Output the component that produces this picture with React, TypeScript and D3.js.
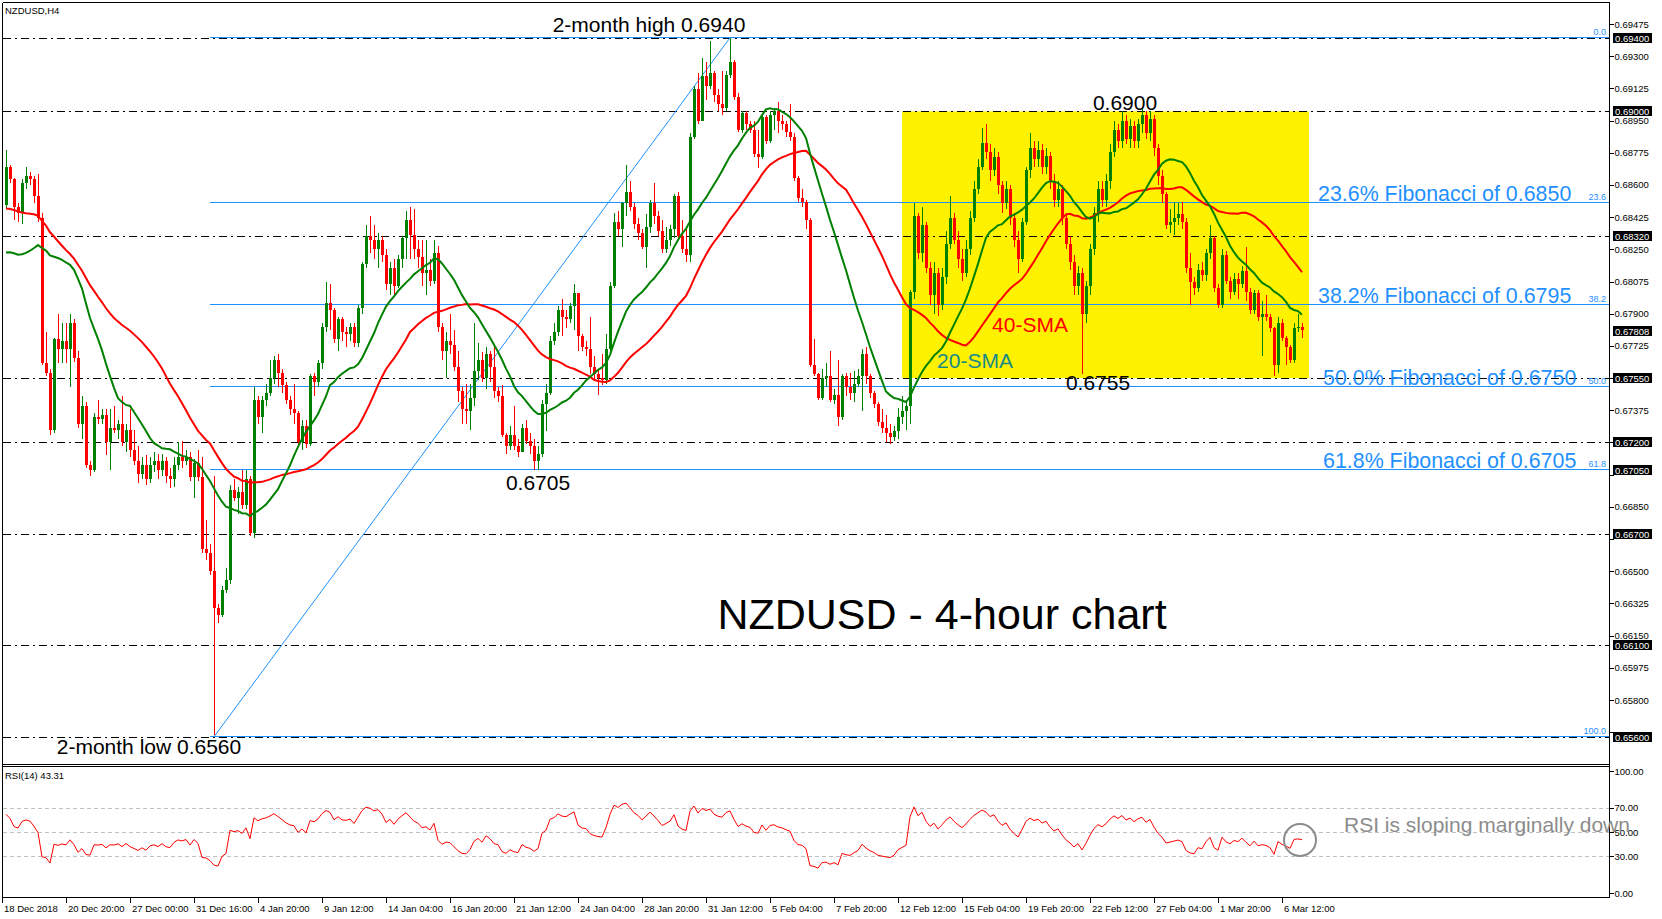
import React from 'react';
import * as d3 from 'd3';

// ---------- DATA (prices in pips, 1 pip = 0.0001) ----------
const FIRST_OPEN = 6849;
// closes before the visible window (used only for the moving averages / RSI)
const HIST_CLOSE = [
  6880, 6875, 6870, 6878, 6885, 6880, 6872, 6868, 6875, 6870,
  6865, 6870, 6868, 6875, 6872, 6866, 6870, 6868, 6862, 6871,
  6865, 6860, 6858, 6862, 6855, 6850, 6840, 6825, 6810, 6795,
  6785, 6780, 6790, 6785, 6795, 6800, 6810, 6820, 6830, 6845,
];
const CLOSE = [
  6870, 6863, 6848, 6845, 6861, 6865, 6863, 6854, 6842, 6763,
  6758, 6727, 6776, 6771, 6775, 6771, 6785, 6766, 6730, 6740,
  6708, 6705, 6734, 6733, 6735, 6720, 6728, 6727, 6730, 6720,
  6727, 6716, 6710, 6703, 6708, 6700, 6708, 6710, 6705, 6710,
  6702, 6700, 6708, 6712, 6710, 6712, 6701, 6709, 6701, 6662,
  6660, 6650, 6630, 6626, 6640, 6645, 6694, 6690, 6693, 6686,
  6700, 6671, 6743, 6734, 6743, 6747, 6755, 6765, 6758, 6751,
  6743, 6738, 6736, 6720, 6729, 6719, 6756, 6753, 6763, 6783,
  6796, 6792, 6776, 6787, 6780, 6779, 6783, 6774, 6793, 6817,
  6832, 6830, 6825, 6830, 6822, 6806, 6815, 6805, 6820, 6831,
  6841, 6833, 6825, 6821, 6812, 6814, 6808, 6823, 6783, 6770,
  6775, 6773, 6761, 6748, 6738, 6737, 6744, 6759, 6765, 6755,
  6768, 6761, 6748, 6745, 6724, 6718, 6724, 6718, 6715, 6728,
  6721, 6718, 6710, 6714, 6741, 6747, 6775, 6780, 6792, 6788,
  6787, 6794, 6801, 6778, 6772, 6771, 6761, 6757, 6755, 6754,
  6771, 6805, 6840, 6836, 6850, 6856, 6848, 6839, 6834, 6826,
  6837, 6850, 6843, 6835, 6825, 6830, 6836, 6854, 6832, 6825,
  6822, 6886, 6912, 6895, 6919, 6914, 6921, 6909, 6904, 6902,
  6920, 6927, 6908, 6890, 6899, 6893, 6890, 6877, 6875, 6897,
  6884, 6898, 6900, 6895, 6893, 6889, 6886, 6864, 6853, 6851,
  6841, 6762, 6757, 6744, 6755, 6756, 6743, 6746, 6734, 6756,
  6750, 6747, 6752, 6756, 6768, 6756, 6747, 6741, 6731, 6728,
  6725, 6723, 6726, 6734, 6737, 6740, 6802, 6843, 6823, 6838,
  6815, 6800, 6812, 6795, 6810, 6828, 6842, 6830, 6820, 6812,
  6825, 6842, 6858, 6870, 6883, 6878, 6868, 6875, 6860, 6850,
  6858, 6842, 6830, 6820, 6840, 6868, 6880, 6874, 6879, 6870,
  6876, 6862, 6852, 6858, 6842, 6828, 6818, 6805, 6812, 6790,
  6805, 6825, 6845, 6858, 6852, 6862, 6878, 6890, 6884, 6895,
  6885, 6892, 6884, 6893, 6898, 6888, 6896, 6880, 6865, 6855,
  6838, 6840, 6842, 6844, 6840, 6815, 6807, 6804, 6814, 6811,
  6823, 6831, 6804, 6795, 6822, 6808, 6802, 6809, 6806, 6813,
  6802, 6792, 6801, 6788, 6790, 6788, 6782, 6762, 6785, 6777,
  6772, 6765, 6782, 6783, 6781,
];
const HIGH = [
  6879, 6871, 6864, 6850, 6863, 6870, 6867, 6865, 6866, 6845,
  6780, 6760, 6777, 6790, 6785, 6785, 6790, 6787, 6770, 6745,
  6742, 6710, 6736, 6743, 6738, 6738, 6738, 6740, 6732, 6745,
  6730, 6738, 6727, 6718, 6712, 6713, 6712, 6715, 6714, 6714,
  6712, 6706, 6712, 6720, 6721, 6716, 6715, 6711, 6716, 6712,
  6678, 6665, 6702, 6632, 6642, 6652, 6697, 6700, 6696, 6705,
  6705, 6702, 6750, 6745, 6745, 6752, 6765, 6767, 6768, 6760,
  6753, 6745, 6752, 6737, 6732, 6732, 6757, 6758, 6765, 6785,
  6807, 6806, 6793, 6788, 6788, 6783, 6785, 6785, 6795, 6818,
  6838, 6843, 6838, 6834, 6832, 6825, 6818, 6820, 6822, 6832,
  6846, 6848, 6847, 6830, 6830, 6830, 6820, 6830, 6827, 6785,
  6780, 6790, 6781, 6770, 6750, 6752, 6752, 6785, 6774, 6769,
  6772, 6770, 6773, 6750, 6751, 6725, 6729, 6740, 6722, 6730,
  6732, 6725, 6722, 6718, 6743, 6752, 6778, 6785, 6794, 6798,
  6792, 6796, 6806, 6801, 6779, 6775, 6788, 6767, 6760, 6768,
  6779, 6807, 6845, 6846, 6851, 6871, 6862, 6850, 6842, 6836,
  6844, 6852, 6861, 6846, 6841, 6837, 6838, 6855, 6856, 6841,
  6836, 6888, 6914, 6921, 6929, 6927, 6938, 6922, 6912, 6922,
  6922, 6940, 6928, 6910, 6900, 6900, 6895, 6895, 6890, 6898,
  6898, 6900, 6902, 6905, 6898, 6895, 6904, 6888, 6865, 6858,
  6852, 6842, 6776, 6758, 6760, 6763, 6770, 6749, 6765, 6757,
  6758, 6758, 6759, 6760, 6771, 6772, 6757, 6748, 6742, 6738,
  6735, 6730, 6729, 6739, 6745, 6742, 6803, 6850, 6845, 6848,
  6840, 6818, 6818, 6815, 6815, 6835, 6854, 6845, 6835, 6825,
  6830, 6846, 6862, 6874, 6891, 6893, 6882, 6880, 6878, 6862,
  6862, 6860, 6845, 6835, 6842, 6870, 6888, 6884, 6884, 6882,
  6880, 6878, 6866, 6862, 6860, 6845, 6832, 6822, 6816, 6815,
  6808, 6828, 6848, 6862, 6862, 6866, 6882, 6895, 6893, 6900,
  6898, 6896, 6895, 6896, 6902, 6900, 6900, 6898, 6882, 6868,
  6856, 6847, 6851, 6850, 6851, 6842, 6823, 6810, 6817, 6818,
  6825, 6838, 6832, 6806, 6825, 6824, 6810, 6812, 6812, 6816,
  6826, 6804, 6803, 6803, 6797, 6800, 6790, 6783, 6788, 6787,
  6778, 6773, 6785, 6790, 6785,
];
const LOW = [
  6847, 6861, 6841, 6840, 6839, 6858, 6860, 6850, 6840, 6762,
  6756, 6724, 6725, 6763, 6763, 6763, 6750, 6764, 6728, 6722,
  6706, 6702, 6704, 6730, 6730, 6713, 6705, 6725, 6722, 6718,
  6715, 6712, 6708, 6698, 6700, 6697, 6698, 6704, 6700, 6702,
  6698, 6695, 6696, 6705, 6706, 6708, 6699, 6690, 6699, 6660,
  6656, 6648, 6561, 6622, 6625, 6638, 6643, 6688, 6681, 6684,
  6684, 6669, 6668, 6730, 6725, 6740, 6745, 6752, 6750, 6747,
  6741, 6735, 6730, 6718, 6716, 6717, 6718, 6745, 6750, 6760,
  6780, 6781, 6774, 6770, 6775, 6772, 6775, 6772, 6772, 6790,
  6815, 6823, 6820, 6815, 6818, 6803, 6800, 6800, 6804, 6815,
  6820, 6820, 6820, 6815, 6805, 6800, 6805, 6806, 6780, 6765,
  6755, 6768, 6759, 6742, 6730, 6730, 6727, 6740, 6754, 6753,
  6749, 6753, 6744, 6742, 6723, 6714, 6716, 6716, 6712, 6715,
  6719, 6714, 6705, 6705, 6712, 6726, 6746, 6773, 6778, 6778,
  6782, 6785, 6781, 6770, 6770, 6767, 6757, 6754, 6746, 6751,
  6752, 6768, 6804, 6832, 6826, 6843, 6846, 6836, 6830, 6825,
  6815, 6834, 6839, 6832, 6823, 6823, 6827, 6831, 6830, 6823,
  6818, 6818, 6885, 6893, 6895, 6906, 6912, 6905, 6900, 6898,
  6900, 6918, 6906, 6889, 6888, 6890, 6888, 6875, 6869, 6874,
  6882, 6883, 6890, 6888, 6890, 6886, 6884, 6862, 6851, 6848,
  6836, 6761, 6756, 6743, 6743, 6750, 6742, 6741, 6729, 6732,
  6745, 6743, 6742, 6750, 6737, 6752, 6744, 6739, 6729, 6725,
  6720, 6719, 6721, 6722, 6730, 6727, 6730, 6798, 6820, 6818,
  6812, 6795, 6790, 6789, 6792, 6806, 6825, 6828, 6815, 6808,
  6810, 6822, 6840, 6855, 6868, 6874, 6862, 6865, 6855, 6845,
  6847, 6838, 6826, 6812, 6818, 6838, 6864, 6870, 6870, 6866,
  6866, 6858, 6848, 6848, 6838, 6825, 6814, 6800, 6800, 6757,
  6785, 6800, 6822, 6840, 6848, 6848, 6858, 6875, 6880, 6880,
  6882, 6880, 6880, 6880, 6888, 6885, 6884, 6876, 6860, 6850,
  6836, 6834, 6833, 6838, 6836, 6812, 6795, 6800, 6802, 6808,
  6808, 6820, 6802, 6793, 6793, 6806, 6798, 6800, 6798, 6804,
  6797, 6790, 6790, 6786, 6767, 6786, 6780, 6756, 6758, 6775,
  6762, 6763, 6763, 6780, 6777,
];

const PRICE_TICKS = [0.69475, 0.693, 0.69125, 0.6895, 0.68775, 0.686, 0.68425, 0.6825, 0.68075, 0.679,
  0.67725, 0.6755, 0.67375, 0.672, 0.67025, 0.6685, 0.66675, 0.665, 0.66325, 0.6615, 0.65975, 0.658, 0.65625];
const PRICE_BOXES = [0.694, 0.69, 0.6832, 0.67808, 0.6755, 0.672, 0.6705, 0.667, 0.661, 0.656];
const HLINES = [0.694, 0.69, 0.6832, 0.6755, 0.672, 0.667, 0.661, 0.656];
const FIB_HIGH = 0.694;
const FIB_LOW = 0.656;
const FIB_LEVELS = [0, 0.236, 0.382, 0.5, 0.618, 1];
const FIB_LEVEL_LABELS = ['0.0', '23.6', '38.2', '50.0', '61.8', '100.0'];
const FIB_TEXTS = [
  { level: 0.236, text: '23.6% Fibonacci of 0.6850', x: 1318 },
  { level: 0.382, text: '38.2% Fibonacci of 0.6795', x: 1318 },
  { level: 0.5, text: '50.0% Fibonacci of 0.6750', x: 1323 },
  { level: 0.618, text: '61.8% Fibonacci of 0.6705', x: 1323 },
];
const TIME_LABELS = ['18 Dec 2018', '20 Dec 20:00', '27 Dec 00:00', '31 Dec 16:00', '4 Jan 20:00', '9 Jan 12:00',
  '14 Jan 04:00', '16 Jan 20:00', '21 Jan 12:00', '24 Jan 04:00', '28 Jan 20:00', '31 Jan 12:00', '5 Feb 04:00',
  '7 Feb 20:00', '12 Feb 12:00', '15 Feb 04:00', '19 Feb 20:00', '22 Feb 12:00', '27 Feb 04:00', '1 Mar 20:00', '6 Mar 12:00'];
const RSI_LEVELS = [70, 50, 30];
const RSI_TICKS = [100, 70, 50, 30, 0];

// ---------- LAYOUT ----------
const W = 1662;
const H = 919;
const LEFT = 2.5;
const AXIS_X = 1609.5;
const TOP = 2.5;
const MAIN_BOTTOM = 764.5;
const RSI_TOP = 766.5;
const RSI_BOTTOM = 897.5;
const FONT = '"Liberation Sans", Arial, sans-serif';
const BLUE = '#1E90FF';
const GREEN = '#008000';
const RED = '#FF0000';

export default function App() {
  const x = d3.scaleLinear().domain([0, 1]).range([6, 10]);
  const y = d3.scaleLinear().domain([0.658, 0.69475]).range([700, 24]);
  const ry = d3.scaleLinear().domain([0, 100]).range([893, 771]);
  const p = (v: number) => v / 10000;

  const opens = CLOSE.map((_, i) => (i === 0 ? FIRST_OPEN : CLOSE[i - 1]));
  const all = [...HIST_CLOSE, ...CLOSE];
  const off = HIST_CLOSE.length;

  const sma = (n: number) =>
    CLOSE.map((_, i) => {
      const end = i + off;
      return { i, v: d3.mean(all.slice(end - n + 1, end + 1)) as number };
    });
  const sma20 = sma(20);
  const sma40 = sma(40);

  // RSI(14), Wilder smoothing
  const rsiAll: number[] = new Array(all.length).fill(NaN);
  let g = 0;
  let l = 0;
  for (let k = 1; k <= 14; k++) {
    const d = all[k] - all[k - 1];
    if (d > 0) g += d; else l -= d;
  }
  g /= 14; l /= 14;
  rsiAll[14] = l === 0 ? 100 : 100 - 100 / (1 + g / l);
  for (let k = 15; k < all.length; k++) {
    const d = all[k] - all[k - 1];
    g = (g * 13 + Math.max(d, 0)) / 14;
    l = (l * 13 + Math.max(-d, 0)) / 14;
    rsiAll[k] = l === 0 ? 100 : 100 - 100 / (1 + g / l);
  }
  const rsi = CLOSE.map((_, i) => ({ i, v: rsiAll[i + off] }));

  const line = d3.line<{ i: number; v: number }>().x((d) => x(d.i)).y((d) => y(p(d.v)));
  const rline = d3.line<{ i: number; v: number }>().x((d) => x(d.i)).y((d) => ry(d.v));

  const fibPrice = (lv: number) => FIB_HIGH - lv * (FIB_HIGH - FIB_LOW);
  const fibStart = x(51);

  const rectX0 = x(224);
  const rectX1 = x(325.75);

  const fmt5 = (v: number) => v.toFixed(5);
  const fmt2 = (v: number) => v.toFixed(2);

  // axis labels hidden behind the black price boxes (as in the terminal)
  const visibleTicks = PRICE_TICKS.filter((v) => PRICE_BOXES.every((b) => Math.abs(y(v) - y(b)) > 9));

  return (
    <svg width={W} height={H} style={{ position: 'absolute', left: 0, top: 0, background: '#fff' }}
      fontFamily={FONT}>
      <defs>
        <clipPath id="mainClip">
          <rect x={3} y={3} width={AXIS_X - 3.5} height={MAIN_BOTTOM - 3.5} />
        </clipPath>
        <clipPath id="rsiClip">
          <rect x={3} y={RSI_TOP + 0.5} width={AXIS_X - 3.5} height={RSI_BOTTOM - RSI_TOP - 1} />
        </clipPath>
      </defs>
      <rect x={0} y={0} width={W} height={H} fill="#fff" />

      <g clipPath="url(#mainClip)">
        {/* yellow range box */}
        <rect x={rectX0} y={y(0.69)} width={rectX1 - rectX0} height={y(0.6755) - y(0.69)} fill="#FFF200" />
        {/* horizontal dash-dot lines */}
        {HLINES.map((v) => (
          <line key={v} x1={LEFT} x2={AXIS_X} y1={Math.round(y(v)) + 0.5} y2={Math.round(y(v)) + 0.5}
            stroke="#000" strokeWidth={1} strokeDasharray="8,4,2,4" shapeRendering="crispEdges" />
        ))}
        {/* fibonacci levels */}
        {FIB_LEVELS.map((lv) => (
          <line key={lv} x1={fibStart} x2={AXIS_X} y1={Math.round(y(fibPrice(lv))) - 0.5}
            y2={Math.round(y(fibPrice(lv))) - 0.5} stroke={BLUE} strokeWidth={1} shapeRendering="crispEdges" />
        ))}
        {FIB_LEVELS.map((lv, k) => (
          <text key={'fl' + lv} x={1606} y={Math.round(y(fibPrice(lv))) - 3} fontSize={9} fill={BLUE}
            textAnchor="end">{FIB_LEVEL_LABELS[k]}</text>
        ))}
        {/* fibonacci base trendline */}
        <line x1={x(52)} y1={y(FIB_LOW)} x2={x(181)} y2={y(FIB_HIGH)} stroke={BLUE} strokeWidth={1} />

        {/* candles */}
        {CLOSE.map((c, i) => {
          const o = opens[i];
          const up = c >= o;
          const col = up ? GREEN : RED;
          const cx = x(i);
          const hi = Math.max(HIGH[i], o, c);
          const lo = Math.min(LOW[i], o, c);
          const top = y(p(Math.max(o, c)));
          const bot = y(p(Math.min(o, c)));
          return (
            <g key={i} shapeRendering="crispEdges">
              <line x1={cx + 0.5} x2={cx + 0.5} y1={y(p(hi))} y2={y(p(lo))} stroke={col} strokeWidth={1} />
              <rect x={cx - 1} y={top} width={3} height={Math.max(1, bot - top)} fill={col} />
            </g>
          );
        })}

        {/* moving averages */}
        <path d={line(sma40) || ''} fill="none" stroke={RED} strokeWidth={2} />
        <path d={line(sma20) || ''} fill="none" stroke={GREEN} strokeWidth={2} />
      </g>

      {/* RSI panel */}
      <g clipPath="url(#rsiClip)">
        {RSI_LEVELS.map((v) => (
          <line key={v} x1={LEFT} x2={AXIS_X} y1={Math.round(ry(v)) + 0.5} y2={Math.round(ry(v)) + 0.5}
            stroke="#C0C0C0" strokeWidth={1} strokeDasharray="4,3" shapeRendering="crispEdges" />
        ))}
        <path d={rline(rsi) || ''} fill="none" stroke={RED} strokeWidth={1} />
      </g>

      {/* frames */}
      <g stroke="#000" strokeWidth={1} shapeRendering="crispEdges" fill="none">
        <line x1={LEFT} x2={AXIS_X} y1={TOP} y2={TOP} />
        <line x1={LEFT} x2={LEFT} y1={TOP} y2={RSI_BOTTOM} />
        <line x1={AXIS_X} x2={AXIS_X} y1={TOP} y2={RSI_BOTTOM} />
        <line x1={LEFT} x2={AXIS_X} y1={MAIN_BOTTOM} y2={MAIN_BOTTOM} />
        <line x1={LEFT} x2={AXIS_X} y1={RSI_TOP} y2={RSI_TOP} />
        <line x1={LEFT} x2={AXIS_X} y1={RSI_BOTTOM} y2={RSI_BOTTOM} />
      </g>

      {/* price axis */}
      {PRICE_TICKS.map((v) => (
        <line key={'t' + v} x1={AXIS_X} x2={AXIS_X + 4} y1={Math.round(y(v)) + 0.5} y2={Math.round(y(v)) + 0.5}
          stroke="#000" shapeRendering="crispEdges" />
      ))}
      {visibleTicks.map((v) => (
        <text key={v} x={AXIS_X + 5} y={y(v) + 3.5} fontSize={9.5} fill="#000">{fmt5(v)}</text>
      ))}
      {PRICE_BOXES.map((v) => (
        <g key={'b' + v}>
          <rect x={1613} y={Math.round(y(v)) - 5} width={39} height={10} fill="#000" />
          <text x={1615} y={Math.round(y(v)) + 3.5} fontSize={9.5} fill="#fff">{fmt5(v)}</text>
        </g>
      ))}

      {/* rsi axis */}
      {RSI_TICKS.map((v) => (
        <g key={'r' + v}>
          <line x1={AXIS_X} x2={AXIS_X + 4} y1={Math.round(ry(v)) + 0.5} y2={Math.round(ry(v)) + 0.5}
            stroke="#000" shapeRendering="crispEdges" />
          <text x={AXIS_X + 5} y={ry(v) + 3.5} fontSize={9.5} fill="#000">{fmt2(v)}</text>
        </g>
      ))}

      {/* time axis */}
      {TIME_LABELS.map((t, k) => {
        const tx = Math.round(x(16 * k)) - 3.5;
        return (
          <g key={t}>
            <line x1={tx} x2={tx} y1={RSI_BOTTOM} y2={RSI_BOTTOM + 5} stroke="#000" shapeRendering="crispEdges" />
            <text x={tx + 1.5} y={912} fontSize={9.5} fill="#000">{t}</text>
          </g>
        );
      })}

      {/* titles */}
      <text x={5} y={14} fontSize={9.5} fill="#000">NZDUSD,H4</text>
      <text x={5} y={779} fontSize={9.5} fill="#000">RSI(14) 43.31</text>

      {/* annotations */}
      <text x={649} y={y(0.694) - 6} fontSize={21} fill="#000" textAnchor="middle">2-month high 0.6940</text>
      <text x={1125} y={y(0.69) - 1} fontSize={21} fill="#000" textAnchor="middle">0.6900</text>
      <text x={1098} y={y(0.6755) + 12} fontSize={21} fill="#000" textAnchor="middle">0.6755</text>
      <text x={538} y={y(0.6705) + 20} fontSize={21} fill="#000" textAnchor="middle">0.6705</text>
      <text x={149} y={y(0.656) + 17} fontSize={21} fill="#000" textAnchor="middle">2-month low 0.6560</text>
      <text x={942} y={629} fontSize={43} fill="#000" textAnchor="middle">NZDUSD - 4-hour chart</text>
      <text x={1030} y={332} fontSize={21} fill={RED} textAnchor="middle">40-SMA</text>
      <text x={975} y={368} fontSize={21} fill="#178A88" textAnchor="middle">20-SMA</text>
      {FIB_TEXTS.map((f) => (
        <text key={f.text} x={f.x} y={Math.round(y(fibPrice(f.level))) - 2} fontSize={21.4} fill={BLUE}>{f.text}</text>
      ))}
      <text x={1344} y={832} fontSize={21} fill="#8C8C8C">RSI is sloping marginally down</text>
      <circle cx={1300} cy={840} r={16} fill="none" stroke="#8C8C8C" strokeWidth={2} />
    </svg>
  );
}
